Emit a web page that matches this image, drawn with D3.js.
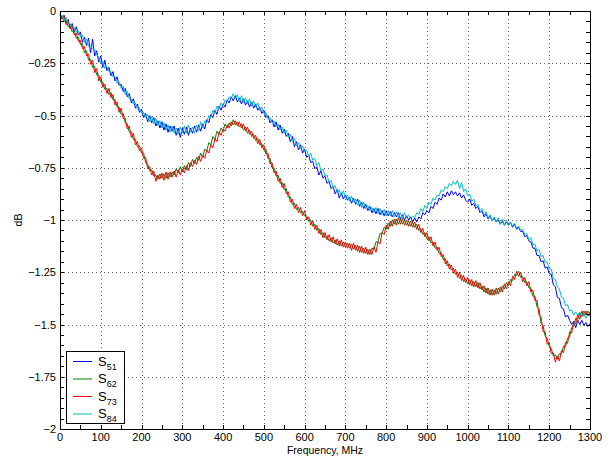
<!DOCTYPE html>
<html>
<head>
<meta charset="utf-8">
<script src="https://cdn.jsdelivr.net/npm/d3@7"></script>
<style>
  body { margin: 0; background: #fff; }
  svg { display: block; font-family: "Liberation Sans", Arial, sans-serif; }
</style>
</head>
<body>
<div id="chart"></div>
<script>
// frequency grid of the measurement, MHz
const freqs = d3.range(0, 1305, 5);

// S51 (blue)
const s51 = [
  -0.015,-0.035,-0.02,-0.06,-0.04, -0.085,-0.06,-0.1,-0.075,-0.115,
  -0.1,-0.15,-0.125,-0.165,-0.13, -0.2,-0.135,-0.215,-0.19,-0.245,
  -0.215,-0.27,-0.235,-0.285,-0.27, -0.31,-0.29,-0.335,-0.315,-0.355,
  -0.35,-0.385,-0.37,-0.41,-0.395, -0.44,-0.42,-0.465,-0.445,-0.485,
  -0.47,-0.51,-0.49,-0.53,-0.5, -0.535,-0.51,-0.55,-0.525,-0.56,
  -0.53,-0.57,-0.54,-0.58,-0.55, -0.575,-0.55,-0.595,-0.56,-0.605,
  -0.56,-0.59,-0.555,-0.595,-0.56, -0.585,-0.55,-0.58,-0.545,-0.575,
  -0.54,-0.565,-0.52,-0.535,-0.495, -0.51,-0.475,-0.495,-0.455,-0.475,
  -0.445,-0.46,-0.425,-0.44,-0.41, -0.43,-0.405,-0.435,-0.415,-0.445,
  -0.42,-0.45,-0.43,-0.46,-0.435, -0.465,-0.445,-0.475,-0.46,-0.49,
  -0.475,-0.51,-0.5,-0.535,-0.52, -0.555,-0.53,-0.57,-0.545,-0.585,
  -0.565,-0.6,-0.585,-0.625,-0.6, -0.65,-0.625,-0.665,-0.64,-0.68,
  -0.66,-0.7,-0.69,-0.725,-0.72, -0.755,-0.745,-0.785,-0.765,-0.8,
  -0.79,-0.825,-0.815,-0.85,-0.84, -0.875,-0.855,-0.895,-0.87,-0.9,
  -0.88,-0.905,-0.89,-0.92,-0.895, -0.925,-0.9,-0.935,-0.915,-0.945,
  -0.925,-0.955,-0.935,-0.965,-0.945, -0.97,-0.945,-0.975,-0.955,-0.98,
  -0.955,-0.98,-0.96,-0.985,-0.965, -0.985,-0.965,-0.995,-0.975,-1.0,
  -0.98,-1.0,-0.985,-1.01,-0.99, -1.01,-0.985,-0.995,-0.965,-0.975,
  -0.955,-0.965,-0.935,-0.945,-0.915, -0.925,-0.895,-0.905,-0.875,-0.89,
  -0.865,-0.885,-0.86,-0.88,-0.865, -0.885,-0.87,-0.895,-0.88,-0.905,
  -0.915,-0.9,-0.93,-0.92,-0.945, -0.935,-0.965,-0.955,-0.985,-0.97,
  -0.995,-0.98,-1.005,-0.99,-1.01, -1.0,-1.02,-1.005,-1.025,-1.01,
  -1.025,-1.01,-1.035,-1.02,-1.045, -1.035,-1.055,-1.055,-1.08,-1.075,
  -1.1,-1.105,-1.135,-1.135,-1.17, -1.17,-1.2,-1.195,-1.23,-1.225,
  -1.255,-1.26,-1.31,-1.32,-1.37, -1.375,-1.42,-1.425,-1.465,-1.455,
  -1.48,-1.5,-1.485,-1.515,-1.48, -1.5,-1.48,-1.505,-1.49,-1.51,
  -1.495
];

// S62 (green)
const s62 = [
  -0.025,-0.025,-0.05,-0.045,-0.075, -0.07,-0.1,-0.095,-0.13,-0.125,
  -0.16,-0.155,-0.2,-0.19,-0.235, -0.23,-0.27,-0.265,-0.305,-0.305,
  -0.34,-0.34,-0.375,-0.37,-0.4, -0.39,-0.425,-0.425,-0.46,-0.46,
  -0.495,-0.49,-0.535,-0.54,-0.58, -0.58,-0.615,-0.615,-0.65,-0.645,
  -0.68,-0.68,-0.725,-0.73,-0.765, -0.76,-0.79,-0.785,-0.805,-0.78,
  -0.8,-0.78,-0.8,-0.775,-0.795, -0.77,-0.785,-0.755,-0.775,-0.745,
  -0.77,-0.74,-0.76,-0.725,-0.745, -0.71,-0.73,-0.7,-0.715,-0.68,
  -0.7,-0.66,-0.67,-0.63,-0.64, -0.6,-0.615,-0.575,-0.59,-0.56,
  -0.575,-0.54,-0.56,-0.535,-0.55, -0.52,-0.545,-0.53,-0.555,-0.54,
  -0.57,-0.555,-0.585,-0.57,-0.6, -0.59,-0.62,-0.61,-0.64,-0.635,
  -0.665,-0.66,-0.705,-0.705,-0.75, -0.75,-0.79,-0.785,-0.825,-0.82,
  -0.855,-0.85,-0.89,-0.89,-0.925, -0.92,-0.95,-0.94,-0.965,-0.96,
  -0.98,-0.98,-1.005,-1.0,-1.03, -1.02,-1.05,-1.04,-1.07,-1.06,
  -1.085,-1.075,-1.1,-1.085,-1.11, -1.095,-1.12,-1.1,-1.125,-1.105,
  -1.13,-1.11,-1.135,-1.115,-1.14, -1.12,-1.15,-1.125,-1.155,-1.135,
  -1.16,-1.14,-1.165,-1.135,-1.14, -1.105,-1.105,-1.065,-1.065,-1.035,
  -1.045,-1.015,-1.03,-1.0,-1.02, -0.995,-1.02,-0.995,-1.02,-1.0,
  -1.025,-1.005,-1.03,-1.01,-1.035, -1.02,-1.05,-1.04,-1.07,-1.06,
  -1.09,-1.08,-1.11,-1.105,-1.135, -1.13,-1.16,-1.155,-1.19,-1.185,
  -1.22,-1.21,-1.24,-1.23,-1.26, -1.25,-1.28,-1.265,-1.295,-1.28,
  -1.305,-1.285,-1.315,-1.295,-1.32, -1.3,-1.33,-1.315,-1.345,-1.325,
  -1.355,-1.335,-1.36,-1.335,-1.355, -1.325,-1.345,-1.315,-1.33,-1.3,
  -1.315,-1.285,-1.29,-1.26,-1.265, -1.245,-1.275,-1.27,-1.3,-1.295,
  -1.325,-1.325,-1.365,-1.365,-1.415, -1.425,-1.495,-1.505,-1.555,-1.565,
  -1.605,-1.615,-1.65,-1.645,-1.665, -1.64,-1.64,-1.605,-1.605,-1.565,
  -1.56,-1.515,-1.51,-1.47,-1.475, -1.445,-1.46,-1.435,-1.455,-1.435,
  -1.455
];

// S73 (red)
const s73 = [
  -0.02,-0.04,-0.025,-0.065,-0.05, -0.085,-0.075,-0.115,-0.105,-0.145,
  -0.14,-0.18,-0.17,-0.215,-0.205, -0.255,-0.235,-0.295,-0.275,-0.335,
  -0.315,-0.365,-0.35,-0.395,-0.37, -0.415,-0.4,-0.45,-0.435,-0.485,
  -0.465,-0.515,-0.515,-0.565,-0.55, -0.605,-0.585,-0.64,-0.625,-0.67,
  -0.655,-0.705,-0.7,-0.755,-0.745, -0.785,-0.765,-0.815,-0.785,-0.805,
  -0.775,-0.81,-0.77,-0.805,-0.77, -0.795,-0.765,-0.795,-0.76,-0.785,
  -0.755,-0.775,-0.74,-0.765,-0.725, -0.745,-0.715,-0.735,-0.695,-0.72,
  -0.69,-0.705,-0.665,-0.68,-0.64, -0.655,-0.61,-0.625,-0.58,-0.595,
  -0.565,-0.575,-0.545,-0.56,-0.53, -0.545,-0.525,-0.55,-0.53,-0.56,
  -0.54,-0.575,-0.555,-0.59,-0.575, -0.61,-0.595,-0.635,-0.615,-0.655,
  -0.64,-0.685,-0.68,-0.73,-0.725, -0.775,-0.765,-0.815,-0.8,-0.845,
  -0.825,-0.875,-0.865,-0.915,-0.9, -0.945,-0.925,-0.965,-0.94,-0.98,
  -0.955,-1.0,-0.985,-1.025,-1.005, -1.045,-1.025,-1.065,-1.045,-1.085,
  -1.06,-1.095,-1.07,-1.105,-1.08, -1.115,-1.09,-1.125,-1.095,-1.13,
  -1.105,-1.135,-1.11,-1.145,-1.11, -1.145,-1.12,-1.155,-1.125,-1.16,
  -1.13,-1.165,-1.14,-1.165,-1.13, -1.155,-1.105,-1.115,-1.06,-1.07,
  -1.025,-1.045,-1.005,-1.03,-0.995, -1.025,-0.99,-1.02,-0.995,-1.025,
  -1.0,-1.03,-1.005,-1.035,-1.01, -1.045,-1.02,-1.06,-1.04,-1.08,
  -1.06,-1.1,-1.08,-1.125,-1.105, -1.145,-1.13,-1.175,-1.165,-1.21,
  -1.195,-1.235,-1.215,-1.255,-1.235, -1.275,-1.25,-1.29,-1.265,-1.3,
  -1.275,-1.31,-1.285,-1.32,-1.29, -1.325,-1.3,-1.335,-1.315,-1.35,
  -1.325,-1.36,-1.33,-1.36,-1.325, -1.355,-1.32,-1.345,-1.305,-1.33,
  -1.295,-1.315,-1.27,-1.285,-1.245, -1.27,-1.25,-1.295,-1.275,-1.315,
  -1.295,-1.345,-1.335,-1.385,-1.385, -1.455,-1.465,-1.535,-1.535,-1.595,
  -1.585,-1.64,-1.635,-1.68,-1.65, -1.675,-1.625,-1.635,-1.585,-1.59,
  -1.535,-1.54,-1.485,-1.495,-1.45, -1.475,-1.435,-1.46,-1.435,-1.46,
  -1.44
];

// S84 (cyan)
const s84 = [
  -0.025,-0.02,-0.045,-0.03,-0.06, -0.06,-0.085,-0.08,-0.1,-0.095,
  -0.125,-0.115,-0.15,-0.135,-0.17, -0.165,-0.18,-0.185,-0.21,-0.22,
  -0.25,-0.24,-0.275,-0.265,-0.29, -0.29,-0.315,-0.315,-0.345,-0.34,
  -0.37,-0.36,-0.4,-0.385,-0.42, -0.42,-0.445,-0.44,-0.47,-0.465,
  -0.49,-0.485,-0.51,-0.495,-0.53, -0.505,-0.54,-0.515,-0.55,-0.525,
  -0.56,-0.535,-0.57,-0.545,-0.58, -0.55,-0.585,-0.56,-0.59,-0.555,
  -0.585,-0.55,-0.585,-0.545,-0.58, -0.555,-0.585,-0.545,-0.575,-0.53,
  -0.56,-0.525,-0.535,-0.5,-0.51, -0.475,-0.49,-0.455,-0.47,-0.44,
  -0.455,-0.425,-0.435,-0.41,-0.42, -0.395,-0.42,-0.4,-0.435,-0.405,
  -0.44,-0.415,-0.445,-0.42,-0.455, -0.43,-0.46,-0.44,-0.475,-0.46,
  -0.49,-0.485,-0.515,-0.51,-0.535, -0.525,-0.555,-0.54,-0.57,-0.555,
  -0.585,-0.57,-0.605,-0.59,-0.625, -0.61,-0.645,-0.63,-0.66,-0.645,
  -0.675,-0.665,-0.695,-0.68,-0.715, -0.705,-0.74,-0.725,-0.765,-0.755,
  -0.79,-0.785,-0.82,-0.81,-0.845, -0.835,-0.87,-0.855,-0.885,-0.86,
  -0.895,-0.88,-0.91,-0.885,-0.915, -0.9,-0.93,-0.905,-0.94,-0.915,
  -0.945,-0.93,-0.955,-0.94,-0.965, -0.94,-0.97,-0.945,-0.975,-0.95,
  -0.98,-0.955,-0.98,-0.955,-0.985, -0.96,-0.99,-0.965,-0.995,-0.965,
  -0.99,-0.975,-0.995,-0.98,-0.99, -0.965,-0.975,-0.945,-0.96,-0.93,
  -0.945,-0.915,-0.925,-0.895,-0.905, -0.88,-0.885,-0.855,-0.865,-0.84,
  -0.85,-0.825,-0.835,-0.815,-0.83, -0.81,-0.85,-0.82,-0.865,-0.85,
  -0.885,-0.875,-0.91,-0.9,-0.935, -0.925,-0.955,-0.945,-0.975,-0.96,
  -0.99,-0.975,-1.005,-0.985,-1.01, -0.99,-1.02,-0.995,-1.025,-1.0,
  -1.025,-1.01,-1.03,-1.015,-1.04, -1.03,-1.05,-1.045,-1.07,-1.065,
  -1.095,-1.085,-1.12,-1.115,-1.15, -1.14,-1.175,-1.17,-1.205,-1.2,
  -1.235,-1.235,-1.28,-1.285,-1.32, -1.33,-1.37,-1.375,-1.41,-1.405,
  -1.435,-1.43,-1.455,-1.44,-1.455, -1.44,-1.465,-1.445,-1.47,-1.45,
  -1.46
];

const seriesNames = ['51', '62', '73', '84'];
const seriesColors = ['#0000ff', '#008000', '#ff0000', '#00bfbf'];
const xTicks = [0, 100, 200, 300, 400, 500, 600, 700, 800, 900, 1000, 1100, 1200, 1300];
const yTicks = [0, -0.25, -0.5, -0.75, -1, -1.25, -1.5, -1.75, -2];

const width = 613;
const height = 466;
const margin = { top: 11, right: 23, bottom: 37, left: 60 };
const plotW = width - margin.left - margin.right;
const plotH = height - margin.top - margin.bottom;

const svg = d3.select('#chart')
  .append('svg')
  .attr('width', width)
  .attr('height', height);

svg.append('rect').attr('width', width).attr('height', height).attr('fill', '#fff');

const x = d3.scaleLinear().domain([0, 1300]).range([margin.left, margin.left + plotW]);
const y = d3.scaleLinear().domain([-2, 0]).range([margin.top + plotH, margin.top]);

const xMinor = d3.range(0, 1301, 50);
const yMinor = d3.range(-40, 1).map(d => d * 0.05);

// dotted grid
const grid = svg.append('g').attr('class', 'grid');
grid.selectAll('line.gx')
  .data(xTicks.slice(1, -1))
  .join('line')
  .attr('class', 'gx')
  .attr('x1', d => Math.round(x(d)) + 0.5).attr('x2', d => Math.round(x(d)) + 0.5)
  .attr('y1', y(0)).attr('y2', y(-2));
grid.selectAll('line.gy')
  .data(yTicks.slice(1, -1))
  .join('line')
  .attr('class', 'gy')
  .attr('y1', d => Math.round(y(d)) + 0.5).attr('y2', d => Math.round(y(d)) + 0.5)
  .attr('x1', x(0)).attr('x2', x(1300));
grid.selectAll('line')
  .attr('stroke', '#666')
  .attr('stroke-width', 1)
  .attr('stroke-dasharray', '1,3');

// series
const line = d3.line()
  .x((d, i) => x(freqs[i]))
  .y(d => y(d));

const allSeries = [s51, s62, s73, s84];
svg.append('g')
  .selectAll('path')
  .data(allSeries)
  .join('path')
  .attr('d', d => line(d))
  .attr('fill', 'none')
  .attr('stroke', (d, i) => seriesColors[i])
  .attr('stroke-width', 1)
  .attr('stroke-linejoin', 'round');

// ticks on all four sides (inward), all the same length
const tickLen = 4;
const ticksG = svg.append('g').attr('stroke', '#000').attr('stroke-width', 1);
xMinor.forEach(v => {
  const px = Math.round(x(v)) + 0.5;
  ticksG.append('line').attr('x1', px).attr('x2', px).attr('y1', y(-2)).attr('y2', y(-2) - tickLen);
  ticksG.append('line').attr('x1', px).attr('x2', px).attr('y1', y(0)).attr('y2', y(0) + tickLen);
});
yMinor.forEach(v => {
  const py = Math.round(y(v)) + 0.5;
  ticksG.append('line').attr('y1', py).attr('y2', py).attr('x1', x(0)).attr('x2', x(0) + tickLen);
  ticksG.append('line').attr('y1', py).attr('y2', py).attr('x1', x(1300)).attr('x2', x(1300) - tickLen);
});

// axis box
svg.append('rect')
  .attr('x', x(0) + 0.5)
  .attr('y', y(0) + 0.5)
  .attr('width', x(1300) - x(0))
  .attr('height', y(-2) - y(0))
  .attr('fill', 'none')
  .attr('stroke', '#000')
  .attr('stroke-width', 1);

// tick labels
const fmtY = d => (d === 0 ? '0' : '\u2212' + String(Math.abs(d)));
svg.append('g')
  .selectAll('text')
  .data(xTicks)
  .join('text')
  .attr('x', d => x(d))
  .attr('y', y(-2) + 12)
  .attr('text-anchor', 'middle')
  .attr('font-size', 11)
  .attr('fill', '#000')
  .text(d => d);

svg.append('g')
  .selectAll('text')
  .data(yTicks)
  .join('text')
  .attr('x', x(0) - 4)
  .attr('y', d => y(d) + 4)
  .attr('text-anchor', 'end')
  .attr('font-size', 11)
  .attr('fill', '#000')
  .text(fmtY);

// axis titles
svg.append('text')
  .attr('x', x(650))
  .attr('y', y(-2) + 25)
  .attr('text-anchor', 'middle')
  .attr('font-size', 10.5)
  .text('Frequency, MHz');

svg.append('text')
  .attr('transform', `translate(22, ${y(-1)}) rotate(-90)`)
  .attr('text-anchor', 'middle')
  .attr('font-size', 10.5)
  .text('dB');

// legend
const legend = svg.append('g').attr('transform', 'translate(66, 351)');
legend.append('rect')
  .attr('x', 0.5).attr('y', 0.5)
  .attr('width', 58).attr('height', 72)
  .attr('fill', '#fff')
  .attr('stroke', '#000')
  .attr('stroke-width', 1);

seriesNames.forEach((name, i) => {
  const cy = 10.5 + i * 17.5;
  legend.append('line')
    .attr('x1', 7).attr('x2', 26)
    .attr('y1', cy).attr('y2', cy)
    .attr('stroke', seriesColors[i])
    .attr('stroke-width', 1);
  const t = legend.append('text')
    .attr('x', 32)
    .attr('y', cy + 4)
    .attr('font-size', 13)
    .attr('fill', '#000');
  t.append('tspan').text('S');
  t.append('tspan').attr('font-size', 9).attr('dy', 4).text(name);
});
</script>
</body>
</html>
